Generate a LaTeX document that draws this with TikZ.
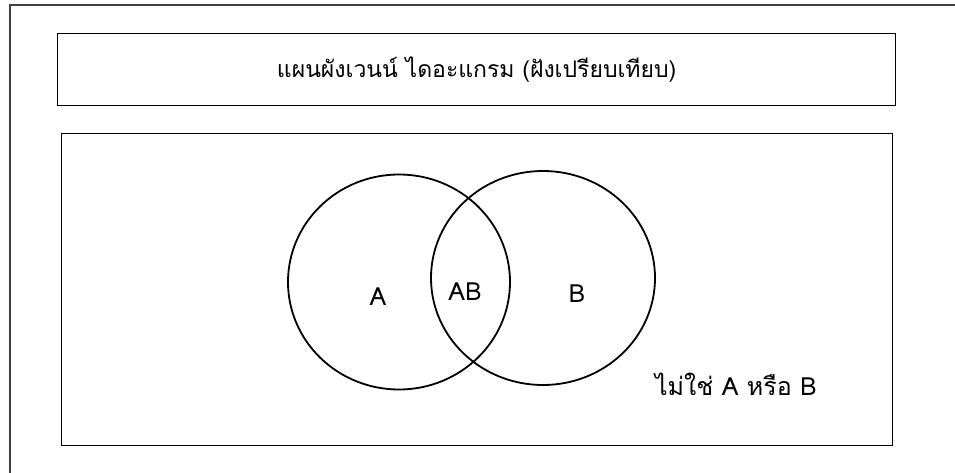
\documentclass[tikz,border=0pt]{standalone}
\usepackage{fontspec}
\newfontfamily\thaifont[Script=Thai]{Loma}
\usetikzlibrary{shapes.geometric}
\begin{document}
\begin{tikzpicture}[x=1pt,y=1pt,
  frame/.style={draw=black!75,line width=1.5pt},
  boxline/.style={draw=black,line width=1.3pt},
  setline/.style={draw=black,line width=1.8pt},
  lbl/.style={font=\thaifont\fontsize{25}{28}\selectfont,inner sep=0pt},
  ttl/.style={font=\thaifont\fontsize{23}{26}\selectfont,inner sep=0pt}]
\useasboundingbox (0,0) rectangle (955,472);
\clip (0,0) rectangle (955,472);
\fill[white] (0,0) rectangle (955,472);
\draw[frame] (10,467) rectangle (970,-10);
\node[boxline,minimum width=838pt,minimum height=72pt,anchor=north west,inner sep=0pt] (title) at (57,439) {};
\node[ttl] (ttext) at (title.center) {แผนผังเวนน์ ไดอะแกรม (ฝังเปรียบเทียบ)};
\node[boxline,minimum width=831pt,minimum height=312pt,anchor=north west,inner sep=0pt] (frameb) at (61,339) {};
\node[setline,ellipse,minimum width=222pt,minimum height=215pt,inner sep=0pt] (ca) at (399,190) {};
\node[setline,ellipse,minimum width=224pt,minimum height=214pt,inner sep=0pt] (cb) at (543,194) {};
\node[lbl] (ta) at (378,175) {A};
\node[lbl] (tab) at (465,180) {AB};
\node[lbl] (tb) at (577,178) {B};
\node[lbl] (tn) at (736,88) {ไม่ใช่ A หรือ B};
\end{tikzpicture}
\end{document}
